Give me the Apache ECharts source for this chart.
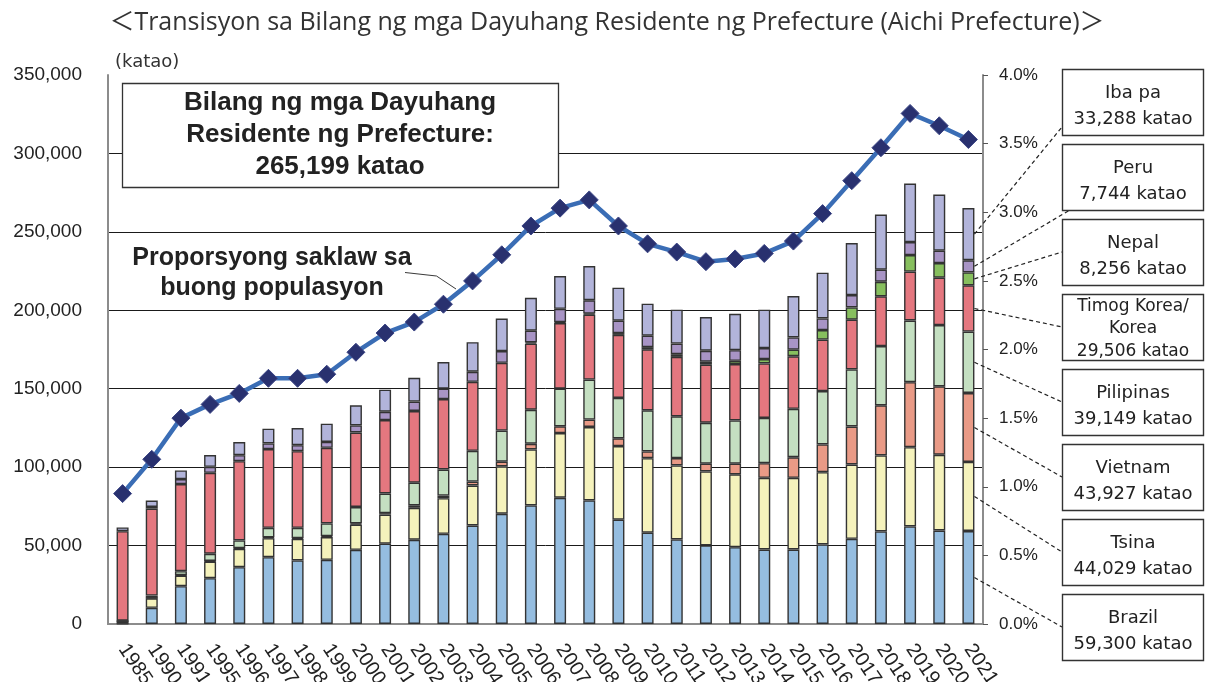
<!DOCTYPE html>
<html><head><meta charset="utf-8">
<script src="https://cdn.jsdelivr.net/npm/echarts@6/dist/echarts.min.js"></script>
<style>html,body{margin:0;padding:0;background:#fff}#c{width:1206px;height:682px}</style>
</head><body><div id="c"></div>
<script>
const years = ['1985','1990','1991','1995','1996','1997','1998','1999','2000','2001','2002','2003','2004','2005','2006','2007','2008','2009','2010','2011','2012','2013','2014','2015','2016','2017','2018','2019','2020','2021'];
const brazil    = [200,10300,24100,29200,36200,42600,40500,40900,47300,51200,53700,57500,62800,70300,75600,80500,78800,66500,58200,53900,50100,49000,47500,47500,50700,54300,59000,62200,59600,59300];
const tsina     = [1600,6100,6800,10600,11700,12100,13800,14500,16100,18500,20400,22700,25500,30200,35700,41200,46800,46900,47500,47200,47200,46400,45700,45700,46100,47400,48500,50500,48300,44029];
const vietnam   = [50,200,300,400,400,500,500,600,700,1000,1500,1700,2500,3000,3600,4300,4700,5000,4300,4700,4900,6800,9300,13100,17700,24200,31900,41500,43600,43927];
const pilipinas = [300,1500,2500,4600,5000,6100,6500,8100,10500,12500,14500,16600,19600,19800,21700,24000,25500,25700,26200,26600,26100,27600,28900,30900,34000,36400,37800,39300,39100,39149];
const korea     = [57000,55500,55500,51600,50500,50200,48900,48200,47500,46800,45700,44900,44000,43200,42100,41900,41500,40200,38900,37900,37000,35900,34700,33500,32800,31700,31700,31200,30200,29506];
const nepal     = [0,0,0,0,0,0,0,0,0,0,0,0,0,0,800,500,600,1200,1400,1700,1900,2100,2800,4200,6100,7800,9300,10500,9300,8256];
const peru      = [0,1000,3200,3800,3800,3600,3800,3800,4500,5300,6000,6600,6400,7500,7500,8500,8500,7900,7300,6800,7000,6800,7000,7800,7400,7900,7700,8300,7900,7744];
const ibapa     = [2400,4100,5500,7500,8400,9400,10900,11600,12800,14100,15200,17000,18900,20700,21000,20900,21800,21000,20400,21600,21500,23200,24500,26400,29200,33200,35100,37300,35800,33288];
const pct       = [0.95,1.20,1.50,1.60,1.68,1.79,1.79,1.82,1.98,2.12,2.20,2.33,2.50,2.69,2.90,3.03,3.09,2.90,2.77,2.71,2.64,2.66,2.70,2.79,2.99,3.23,3.47,3.72,3.63,3.53];
const totalLabel = '265,199';
const titleText = '＜Transisyon sa Bilang ng mga Dayuhang Residente ng Prefecture (Aichi Prefecture)＞';

const seriesDefs = [
  {name:'Brazil', label:'Brazil', data:brazil, color:'#95BDE0'},
  {name:'Tsina', label:'Tsina', data:tsina, color:'#F5F2BC'},
  {name:'Vietnam', label:'Vietnam', data:vietnam, color:'#E99A86'},
  {name:'Pilipinas', label:'Pilipinas', data:pilipinas, color:'#C4DFC1'},
  {name:'Timog Korea/Korea', label:'Timog Korea/\nKorea', data:korea, color:'#E4777F'},
  {name:'Nepal', label:'Nepal', data:nepal, color:'#87BF5E'},
  {name:'Peru', label:'Peru', data:peru, color:'#A894C5'},
  {name:'Iba pa', label:'Iba pa', data:ibapa, color:'#B2B4DA'}
];

const BAR_W = 12;
const chart = echarts.init(document.getElementById('c'));
const fmt = v => v.toLocaleString('en-US');

const series = seriesDefs.map(d => ({
  name: d.name, type: 'bar', stack: 'total', barWidth: BAR_W,
  data: d.data.map(v => v === 0 ? '-' : v),
  itemStyle: {color: d.color, borderColor: '#333', borderWidth: 1.4},
  emphasis: {disabled: true}, z: 2
}));
series.push({
  name: 'Proporsyon', type: 'line', yAxisIndex: 1, data: pct,
  symbol: 'diamond', symbolSize: 18,
  lineStyle: {color: '#3A6DB5', width: 4.5},
  itemStyle: {color: '#29316F', borderColor: '#3b4585', borderWidth: 1},
  z: 5, animation: false
});

const axisGray = {color: '#8c8c8c', width: 2};
chart.setOption({
  animation: false,
  backgroundColor: '#fff',
  grid: {left: 108, right: 223, top: 75, bottom: 58, containLabel: false, outerBoundsMode: 'none'},
  xAxis: [{
    type: 'category', data: years,
    axisLine: {lineStyle: axisGray},
    axisTick: {inside: true, length: 5, lineStyle: {color: '#222', width: 1}},
    axisLabel: {rotate: -56, margin: 22, color: '#222', fontSize: 20, fontFamily: 'Liberation Sans', interval: 0}
  }, {
    type: 'category', data: years, position: 'top',
    axisLine: {lineStyle: axisGray}, axisTick: {show: false}, axisLabel: {show: false}
  }],
  yAxis: [{
    type: 'value', min: 0, max: 350000, interval: 50000,
    axisLine: {show: true, lineStyle: axisGray}, axisTick: {show: false},
    axisLabel: {formatter: fmt, color: '#222', fontSize: 19, fontFamily: 'Liberation Sans', margin: 26},
    splitLine: {show: true, showMaxLine: false, showMinLine: false, lineStyle: {color: '#1a1a1a', width: 1}}
  }, {
    type: 'value', min: 0, max: 4, interval: 0.5, position: 'right',
    axisLine: {show: true, lineStyle: axisGray},
    axisTick: {show: true, inside: false, length: 5, lineStyle: {color: '#555', width: 1}},
    axisLabel: {formatter: v => v.toFixed(1) + '%', color: '#222', fontSize: 17, fontFamily: 'Liberation Sans', margin: 16},
    splitLine: {show: false}
  }],
  series: series
});

// annotations
const last = years.length - 1;
const boxX = 1062, boxW = 141, boxH = 66;
const boxTops = [69, 144, 219, 294, 369, 444, 519, 594];
const order = [7, 6, 5, 4, 3, 2, 1, 0];
const graphics = [];

graphics.push({type: 'text', x: 607, y: 23, z: 100,
  style: {text: titleText, font: '25px "Open Sans", "Noto Sans CJK JP"', fill: '#333', align: 'center', verticalAlign: 'middle'}});
graphics.push({type: 'text', x: 115, y: 62, z: 100,
  style: {text: '(katao)', font: '18px "DejaVu Sans"', fill: '#333', verticalAlign: 'middle'}});
// cover top border behind box
graphics.push({type: 'rect', z: 90, shape: {x: 117, y: 70, width: 443, height: 14}, style: {fill: '#fff'}});
graphics.push({type: 'rect', z: 95, shape: {x: 122.5, y: 83.5, width: 436, height: 104},
  style: {fill: '#fff', stroke: '#333', lineWidth: 1.3}});
graphics.push({type: 'text', x: 340, y: 135, z: 100,
  style: {text: 'Bilang ng mga Dayuhang\nResidente ng Prefecture:\n' + totalLabel + ' katao',
    font: 'bold 26px "Liberation Sans"', fill: '#222', align: 'center', verticalAlign: 'middle', lineHeight: 32}});
graphics.push({type: 'text', x: 272, y: 273, z: 100,
  style: {text: 'Proporsyong saklaw sa\nbuong populasyon',
    font: 'bold 25px "Liberation Sans"', fill: '#222', align: 'center', verticalAlign: 'middle', lineHeight: 30}});
graphics.push({type: 'polyline', z: 100, shape: {points: [[405, 272.5], [436.5, 276], [456, 289]]},
  style: {stroke: '#222', lineWidth: 0.9, fill: null}});

order.forEach((si, k) => {
  const d = seriesDefs[si];
  const top = boxTops[k];
  graphics.push({type: 'rect', z: 100, shape: {x: boxX + 0.5, y: top + 0.5, width: boxW, height: boxH},
    style: {fill: '#fff', stroke: '#333', lineWidth: 1.4}});
  const isKorea = d.label.indexOf('\n') >= 0;
  const txt = d.label + '\n' + fmt(d.data[last]) + ' katao';
  graphics.push({type: 'text', z: 101, x: boxX + boxW / 2 + 0.5, y: top + (isKorea ? 35 : 37),
    style: {text: txt, font: (isKorea ? '17px' : '18px') + ' "DejaVu Sans"', fill: '#222',
      align: 'center', verticalAlign: 'middle', lineHeight: isKorea ? 22.5 : 26}});
  // leader
  let base = 0;
  for (let j = 0; j < si; j++) base += seriesDefs[j].data[last];
  const mid = base + d.data[last] / 2;
  const p = chart.convertToPixel({xAxisIndex: 0, yAxisIndex: 0}, [last, mid]);
  const sx = p[0] + BAR_W / 2, sy = p[1];
  let ex = boxX, ey = top + boxH / 2;
  if (si === 7) { ey = top + 58; }
  if (si === 6) { ex = boxX + 8; ey = top + boxH; }
  graphics.push({type: 'line', z: 99, shape: {x1: sx, y1: sy, x2: ex, y2: ey},
    style: {stroke: '#222', lineWidth: 1.2, lineDash: [4, 3]}});
});

chart.setOption({graphic: graphics});
</script></body></html>
